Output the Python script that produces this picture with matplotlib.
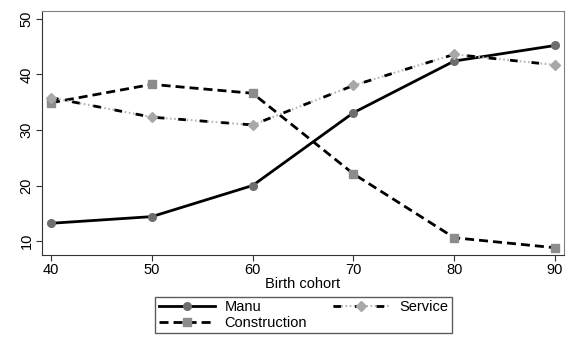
import matplotlib
matplotlib.use("Agg")
import matplotlib.pyplot as plt
from matplotlib.legend_handler import HandlerTuple

plt.rcParams['font.family'] = ['Liberation Sans', 'DejaVu Sans']
plt.rcParams['lines.scale_dashes'] = False

cohort = [40, 50, 60, 70, 80, 90]
manu = [13.2, 14.4, 20.0, 33.1, 42.4, 45.2]
service = [35.8, 32.3, 30.9, 38.0, 43.6, 41.7]
construction = [34.9, 38.2, 36.6, 22.1, 10.6, 8.8]

fs = 10.5

fig = plt.figure(figsize=(5.75, 3.45), dpi=100)
ax = fig.add_axes([0.073, 0.261, 0.908, 0.707])

l_manu, = ax.plot(cohort, manu, color='black', lw=2.0, marker='o', ms=5.5,
                  mfc='#6e6e6e', mec='#6e6e6e', label='Manu')
l_cons, = ax.plot(cohort, construction, color='black', lw=2.0,
                  dashes=(6.5, 3.6), marker='s', ms=5.5,
                  mfc='#8c8c8c', mec='#8c8c8c', label='Construction')
# service: grey dotted line underneath, black long dashes on top
l_srv_dot, = ax.plot(cohort, service, color='#b5b5b5', lw=1.5,
                     dashes=(1.2, 1.8))
l_srv, = ax.plot(cohort, service, color='black', lw=2.0,
                 dashes=(5.5, 10.0), marker='D', ms=5.5,
                 mfc='#a8a8a8', mec='#a8a8a8')

ax.set_xlim(39.1, 90.9)
ax.set_ylim(7.5, 51.4)
ax.set_xticks(cohort)
ax.set_yticks([10, 20, 30, 40, 50])
ax.tick_params(labelsize=fs, length=4, color='#333333', pad=2)
for lab in ax.get_yticklabels():
    lab.set_rotation(90)
    lab.set_va('center')
ax.set_xlabel('Birth cohort', fontsize=fs, labelpad=0)
for sp in ax.spines.values():
    sp.set_color('#808080')
ax.spines['left'].set_color('#333333')
ax.spines['bottom'].set_color('#333333')

leg = fig.legend([l_manu, l_cons, (l_srv_dot, l_srv)],
                 ['Manu', 'Construction', 'Service'],
                 handler_map={tuple: HandlerTuple(ndivide=1)},
                 ncol=2, loc='center', bbox_to_anchor=(0.528, 0.087),
                 fontsize=fs, frameon=True, fancybox=False,
                 edgecolor='#333333', handlelength=3.8, columnspacing=1.8,
                 labelspacing=0.1, borderpad=0.25, handletextpad=0.7)
leg.get_frame().set_linewidth(1.0)

fig.savefig('out.png', dpi=100)
